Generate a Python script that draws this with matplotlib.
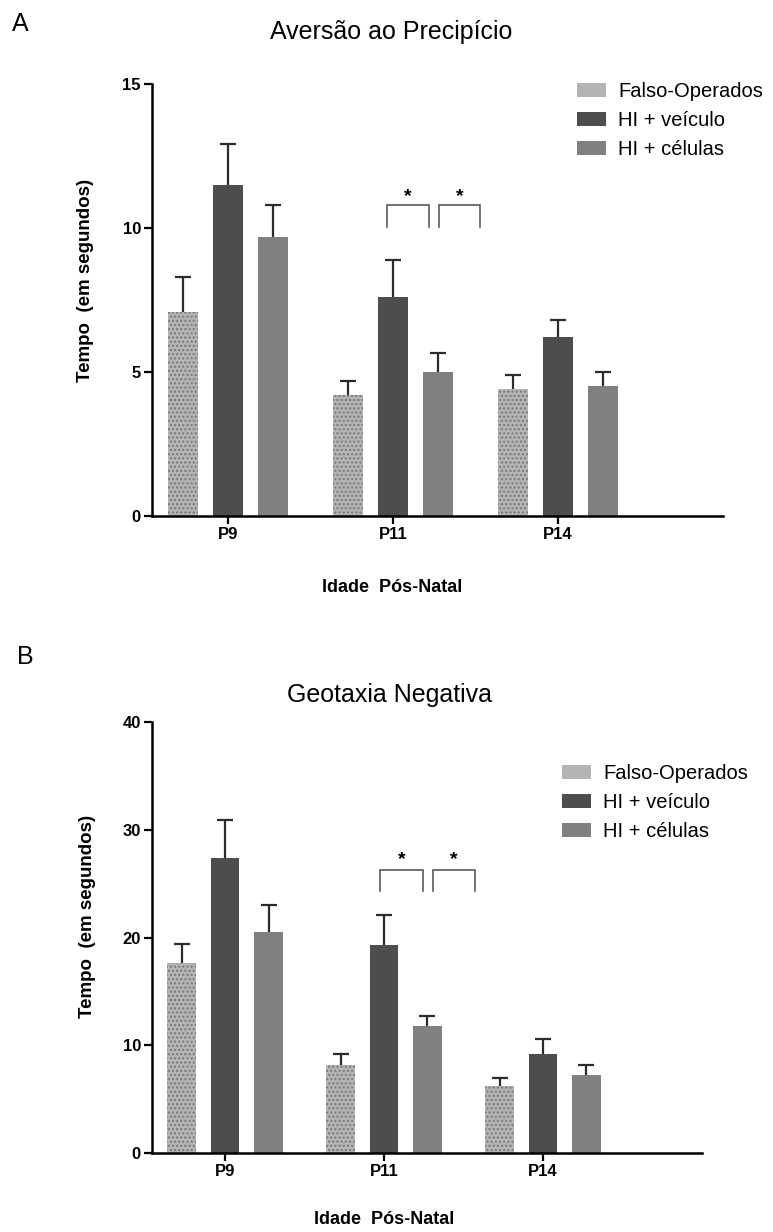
import matplotlib
matplotlib.use("Agg")
import matplotlib.pyplot as plt
from matplotlib.patches import Patch
import numpy as np

plt.rcParams['font.family'] = ['Liberation Sans', 'DejaVu Sans']
plt.rcParams['hatch.linewidth'] = 1.0

# ---- data ----
ages = ["P9", "P11", "P14"]
groups = ["Falso-Operados", "HI + veículo", "HI + células"]

# Aversão ao Precipício (mean, sem)
aversao_mean = {
    "Falso-Operados": [7.1, 4.2, 4.4],
    "HI + veículo":   [11.5, 7.6, 6.2],
    "HI + células":   [9.7, 5.0, 4.5],
}
aversao_sem = {
    "Falso-Operados": [1.2, 0.5, 0.5],
    "HI + veículo":   [1.4, 1.3, 0.6],
    "HI + células":   [1.1, 0.65, 0.5],
}

# Geotaxia Negativa (mean, sem)
geotaxia_mean = {
    "Falso-Operados": [17.6, 8.2, 6.2],
    "HI + veículo":   [27.4, 19.3, 9.2],
    "HI + células":   [20.5, 11.8, 7.2],
}
geotaxia_sem = {
    "Falso-Operados": [1.8, 1.0, 0.8],
    "HI + veículo":   [3.5, 2.8, 1.4],
    "HI + células":   [2.5, 0.9, 1.0],
}

W, H = 773, 1232
fig = plt.figure(figsize=(W / 100, H / 100), dpi=100)


def px_axes(left, top, right, bottom):
    return fig.add_axes([left / W, 1 - bottom / H, (right - left) / W, (bottom - top) / H])


styles = {
    "Falso-Operados": dict(color="#b4b4b4", hatch="....", edgecolor="#777777", linewidth=0),
    "HI + veículo":   dict(color="#4d4d4d", edgecolor="#4d4d4d", linewidth=0),
    "HI + células":   dict(color="#808080", edgecolor="#808080", linewidth=0),
}
offsets = [-0.273, 0.0, 0.273]
bw = 0.18


def draw_panel(ax, means, sems, ymax, yticks, brackets, star_y, br_top, br_bot):
    x = np.arange(len(ages))
    for g, off in zip(groups, offsets):
        m = np.array(means[g])
        s = np.array(sems[g])
        ax.bar(x + off, m, bw, zorder=2, **styles[g])
        ax.vlines(x + off, m, m + s, color="#2b2b2b", lw=1.6, zorder=3)
        ax.plot(x + off, m + s, ls="none", marker="_", ms=12, mew=1.6,
                color="#2b2b2b", zorder=3)
    for (x0, x1) in brackets:
        ax.plot([x0, x0, x1, x1], [br_bot, br_top, br_top, br_bot],
                color="#5a5a5a", lw=1.2, solid_joinstyle="miter")
        ax.text((x0 + x1) / 2, star_y, "*", ha="center", va="center",
                fontsize=14, fontweight="bold")
    ax.set_xlim(-0.46, 3.0)
    ax.set_ylim(0, ymax)
    ax.set_yticks(yticks)
    ax.set_xticks(x)
    ax.set_xticklabels(ages)
    for sp in ["top", "right"]:
        ax.spines[sp].set_visible(False)
    for sp in ["left", "bottom"]:
        ax.spines[sp].set_linewidth(1.8)
    ax.tick_params(axis="both", direction="out", length=6, width=1.6, pad=2,
                   labelsize=12)
    for lab in ax.get_xticklabels() + ax.get_yticklabels():
        lab.set_fontweight("bold")
    ax.spines["bottom"].set_zorder(4)


handles = [Patch(**styles[g], label=g) for g in groups]

# ---- panel A ----
axA = px_axes(152, 84, 723, 516)
draw_panel(axA, aversao_mean, aversao_sem, 15, [0, 5, 10, 15],
           [(0.964, 1.218), (1.279, 1.527)], 11.1, 10.8, 10.03)
axA.legend(handles=handles, loc="upper left", bbox_to_anchor=(577 / W, 1 - 82 / H),
           bbox_transform=fig.transFigure, frameon=False, borderpad=0,
           borderaxespad=0, fontsize=14.5, handlelength=1.45, handleheight=0.65,
           handletextpad=0.6, labelspacing=0.5)
fig.text(391 / W, 1 - 32 / H, "Aversão ao Precipício", ha="center", va="center", fontsize=18)
fig.text(12 / W, 1 - 24 / H, "A", ha="left", va="center", fontsize=18)
fig.text(392 / W, 1 - 587 / H, "Idade  Pós-Natal", ha="center", va="center",
         fontsize=13, fontweight="bold")
fig.text(86 / W, 1 - 280 / H, "Tempo  (em segundos)", ha="center", va="center",
         rotation=90, fontsize=13.5, fontweight="bold")

# ---- panel B ----
axB = px_axes(152, 722, 702, 1153)
draw_panel(axB, geotaxia_mean, geotaxia_sem, 40, [0, 10, 20, 30, 40],
           [(0.975, 1.247), (1.31, 1.57)], 27.2, 26.3, 24.3)
axB.legend(handles=handles, loc="upper left", bbox_to_anchor=(562 / W, 1 - 764 / H),
           bbox_transform=fig.transFigure, frameon=False, borderpad=0,
           borderaxespad=0, fontsize=14.5, handlelength=1.45, handleheight=0.65,
           handletextpad=0.6, labelspacing=0.5)
fig.text(390 / W, 1 - 695 / H, "Geotaxia Negativa", ha="center", va="center", fontsize=18)
fig.text(17 / W, 1 - 657 / H, "B", ha="left", va="center", fontsize=18)
fig.text(384 / W, 1 - 1220 / H, "Idade  Pós-Natal", ha="center", va="center",
         fontsize=13, fontweight="bold")
fig.text(88 / W, 1 - 916 / H, "Tempo  (em segundos)", ha="center", va="center",
         rotation=90, fontsize=13.5, fontweight="bold")

fig.savefig("out.png", dpi=100)
